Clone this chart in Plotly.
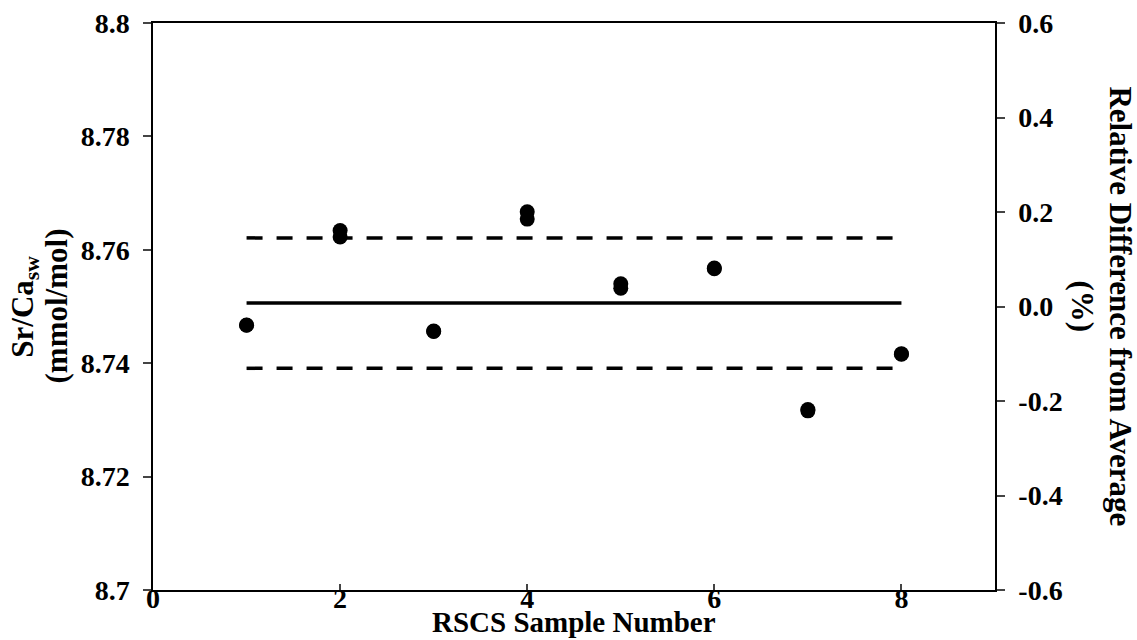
import plotly.graph_objects as go

sample = [1, 2, 3, 4, 5, 6, 7, 8]
sr_ca = [8.7467, 8.7634, 8.7456, 8.7667, 8.7540, 8.7568, 8.7316, 8.7416]
rel_diff = [-0.039, 0.147, -0.052, 0.185, 0.0385, 0.080, -0.218, -0.100]

line_x = [1, 8]
mean_line = [8.7506, 8.7506]
upper_line = [8.7621, 8.7621]
lower_line = [8.7391, 8.7391]

left_ticks = [8.7, 8.72, 8.74, 8.76, 8.78, 8.8]
left_text = ["8.7", "8.72", "8.74", "8.76", "8.78", "8.8"]
right_ticks = [-0.6, -0.4, -0.2, 0.0, 0.2, 0.4, 0.6]
right_text = ["-0.6", "-0.4", "-0.2", "0.0", "0.2", "0.4", "0.6"]
x_ticks = [0, 2, 4, 6, 8]

FONT = "Liberation Serif, Times New Roman, Times, serif"

fig = go.Figure()
fig.add_trace(go.Scatter(x=line_x, y=mean_line, mode="lines",
                         line=dict(color="black", width=3.5), showlegend=False))
fig.add_trace(go.Scatter(x=line_x, y=upper_line, mode="lines",
                         line=dict(color="black", width=3.5, dash="16px,14px"), showlegend=False))
fig.add_trace(go.Scatter(x=line_x, y=lower_line, mode="lines",
                         line=dict(color="black", width=3.5, dash="16px,14px"), showlegend=False))
fig.add_trace(go.Scatter(x=sample, y=sr_ca, mode="markers",
                         marker=dict(color="black", size=15), showlegend=False))
fig.add_trace(go.Scatter(x=sample, y=rel_diff, mode="markers", yaxis="y2",
                         marker=dict(color="black", size=15), showlegend=False))

tick_font = dict(family=FONT, size=28, color="black")
title_font = dict(family=FONT, size=31, color="black")

fig.update_layout(
    width=1137, height=640,
    margin=dict(l=153, r=142, t=23, b=50),
    plot_bgcolor="white", paper_bgcolor="white",
    font=dict(family=FONT, color="black"),
    xaxis=dict(range=[0, 9], tickvals=x_ticks, ticktext=["<b>%d</b>" % v for v in x_ticks],
               ticks="inside", ticklen=6, tickwidth=1.5, automargin=False, ticklabelstandoff=-17,
               showline=True, linecolor="black", linewidth=1.5, mirror=True,
               showgrid=False, zeroline=False, tickfont=tick_font),
    yaxis=dict(range=[8.7, 8.8], tickvals=left_ticks, ticktext=["<b>%s</b>" % t for t in left_text],
               ticks="outside", ticklen=8, tickwidth=1.5, automargin=False, ticklabelstandoff=8,
               showline=True, linecolor="black", linewidth=1.5,
               showgrid=False, zeroline=False, tickfont=tick_font),
    yaxis2=dict(range=[-0.6, 0.6], tickvals=right_ticks, ticktext=["<b>%s</b>" % t for t in right_text],
                overlaying="y", side="right", automargin=False, ticklabelstandoff=8,
                ticks="outside", ticklen=8, tickwidth=1.5,
                showline=True, linecolor="black", linewidth=1.5,
                showgrid=False, zeroline=False, tickfont=tick_font),
)

fig.add_annotation(text="<b>RSCS Sample Number</b>",
                   xref="paper", yref="paper", x=0.5, y=-0.0882, xanchor="center", yanchor="bottom",
                   showarrow=False, font=dict(family=FONT, size=29, color="black"))
fig.add_annotation(text="<b>Sr/Ca<sub>sw</sub></b>", textangle=-90,
                   xref="paper", yref="paper", x=-0.153, y=0.5, xanchor="center", yanchor="middle",
                   showarrow=False, font=title_font)
fig.add_annotation(text="<b>(mmol/mol)</b>", textangle=-90,
                   xref="paper", yref="paper", x=-0.1152, y=0.5, xanchor="center", yanchor="middle",
                   showarrow=False, font=title_font)
fig.add_annotation(text="<b>Relative Difference from Average</b>", textangle=90,
                   xref="paper", yref="paper", x=1.1485, y=0.5, xanchor="center", yanchor="middle",
                   showarrow=False, font=title_font)
fig.add_annotation(text="<b>(%)</b>", textangle=90,
                   xref="paper", yref="paper", x=1.1045, y=0.5, xanchor="center", yanchor="middle",
                   showarrow=False, font=title_font)

fig.write_html("out.html")
